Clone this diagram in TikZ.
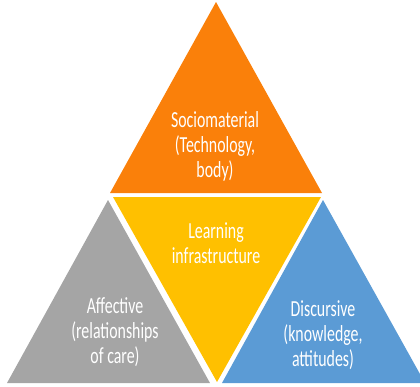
\documentclass[tikz,border=0pt]{standalone}
\usepackage{fontspec}
\setmainfont[FakeStretch=0.69]{Carlito}
\usepackage{tikz}
\usepackage{xcolor}
\definecolor{soc}{RGB}{250,128,10}
\definecolor{infra}{RGB}{255,192,0}
\definecolor{aff}{RGB}{165,165,165}
\definecolor{disc}{RGB}{91,155,213}
\tikzset{
  piece/.style={draw=none},
  lbl/.style={text=white,align=center,inner sep=0pt,
    font=\fontsize{23}{25}\selectfont},
}

\begin{document}
\begin{tikzpicture}[x=1pt,y=-1pt]
  \useasboundingbox (0,0) rectangle (420,386);
  \begin{scope}
    \clip (0,0) rectangle (420,386);
    % four pieces of the big triangle
    \fill[piece,soc] (216,2) -- (110,193) -- (322,193) -- cycle;
    \fill[piece,infra] (113,197) -- (321,197) -- (217,382) -- cycle;
    \fill[piece,aff] (108,200) -- (7,383) -- (210,383) -- cycle;
    \fill[piece,disc] (323,200) -- (222,383) -- (425,383) -- cycle;
  \end{scope}
  \node[lbl] (s) at (215,146) {Sociomaterial\\(Technology,\\body)};
  \node[lbl] (l) at (216,243) {Learning\\infrastructure};
  \node[lbl] (a) at (115,332) {Affective\\(relationships\\of care)};
  \node[lbl] (d) at (323,335) {Discursive\\(knowledge,\\attitudes)};
\end{tikzpicture}
\end{document}
